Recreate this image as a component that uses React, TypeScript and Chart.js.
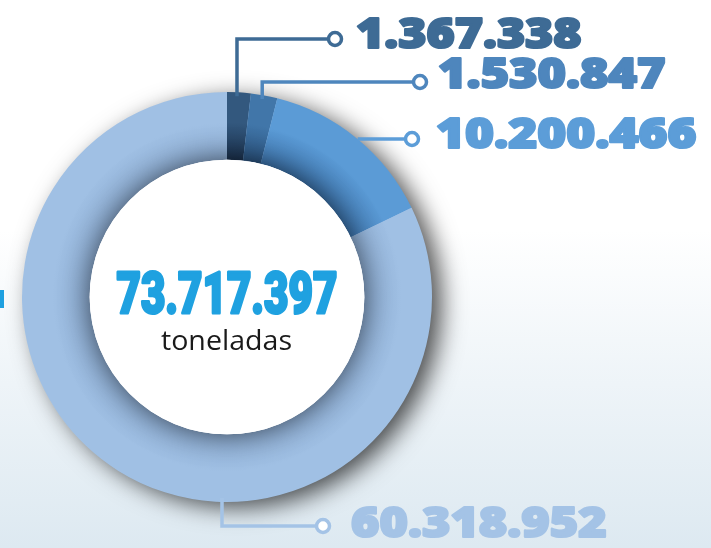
import React, { useEffect, useRef } from "react";
import { Chart, registerables } from "chart.js";

Chart.register(...registerables);

// ---- data ----
const categories = ["Categoría 1", "Categoría 2", "Categoría 3", "Categoría 4"];
const values = [1367338, 1530847, 10200466, 60318952];
const totalTonnes = 73717397;
const unitLabel = "toneladas";
const sliceColors = ["#33587e", "#4176a9", "#5b9bd6", "#a0c0e4"];
const sliceInnerColors = ["#1c3350", "#2b5480", "#3d74ac", "#8eaed4"];
const labelColors = ["#3e6b95", "#4e86bd", "#5c9dd8", "#a4c3e6"];

const fmt = (n: number) => n.toString().replace(/\B(?=(\d{3})+(?!\d))/g, ".");

// label layout: route of leader line, y of horizontal leg, dot x, text x, text width, text baseline
const labelLayout = [
  { route: "up", lineY: 39, dotX: 335, textX: 355, textW: 228, base: 49 },
  { route: "up", lineY: 82, dotX: 420, textX: 437, textW: 230, base: 89 },
  { route: "right", lineY: 139, dotX: 412, textX: 435, textW: 263, base: 149 },
  { route: "down", lineY: 526, dotX: 323, textX: 350, textW: 258, base: 538 },
];

function drawFit(ctx: CanvasRenderingContext2D, text: string, x: number, base: number, w: number, font: string, color: string, stroke = 0) {
  ctx.save();
  ctx.font = font;
  ctx.fillStyle = color;
  ctx.strokeStyle = color;
  ctx.textAlign = "left";
  ctx.textBaseline = "alphabetic";
  const m = (ctx.measureText(text).width || 1) + stroke;
  ctx.translate(x + stroke / 2, base - stroke / 2);
  ctx.scale(w / m, 1);
  ctx.fillText(text, 0, 0);
  if (stroke > 0) {
    ctx.lineWidth = stroke;
    ctx.lineJoin = "round";
    ctx.strokeText(text, 0, 0);
  }
  ctx.restore();
}

export default function App() {
  const ref = useRef<HTMLCanvasElement | null>(null);

  useEffect(() => {
    document.body.style.margin = "0";
    const canvas = ref.current;
    if (!canvas) return;

    const geom = (chart: any) => {
      const a = chart.chartArea;
      const cx = (a.left + a.right) / 2;
      const cy = (a.top + a.bottom) / 2;
      const r = Math.min(a.right - a.left, a.bottom - a.top) / 2;
      return { cx, cy, r, ir: r * 0.67 };
    };

    const decor = {
      id: "decor",
      beforeDatasetsDraw(chart: any) {
        const ctx = chart.ctx as CanvasRenderingContext2D;
        const { cx, cy, r } = geom(chart);
        ctx.save();
        ctx.shadowColor = "rgba(0,0,0,0.7)";
        ctx.shadowBlur = 24;
        ctx.shadowOffsetX = 10;
        ctx.shadowOffsetY = 6;
        ctx.beginPath();
        ctx.arc(cx, cy, r - 1, 0, Math.PI * 2);
        ctx.fillStyle = "#9fbfe3";
        ctx.fill();
        ctx.restore();
        // left fragment of cropped text
        ctx.save();
        ctx.fillStyle = "#1ea0e0";
        ctx.fillRect(0, 290, 4, 18);
        ctx.restore();
      },
      afterDatasetsDraw(chart: any) {
        const ctx = chart.ctx as CanvasRenderingContext2D;
        const { cx, cy, r, ir } = geom(chart);
        // inner white circle with shadow
        ctx.save();
        ctx.shadowColor = "rgba(0,0,0,0.6)";
        ctx.shadowBlur = 28;
        ctx.beginPath();
        ctx.arc(cx, cy, ir, 0, Math.PI * 2);
        ctx.fillStyle = "#ffffff";
        ctx.fill();
        ctx.restore();
        ctx.save();
        ctx.beginPath();
        ctx.arc(cx, cy, ir, 0, Math.PI * 2);
        ctx.fillStyle = "#ffffff";
        ctx.fill();
        ctx.restore();

        // center texts
        drawFit(ctx, fmt(totalTonnes), cx - 112, 314, 223, "900 58px Roboto, 'Open Sans', sans-serif", "#1fa1e0", 3);
        drawFit(ctx, unitLabel, cx - 66, 350, 131, "400 27px 'Open Sans', Lato, sans-serif", "#1a1a1a");

        // leaders + labels
        const meta = chart.getDatasetMeta(0);
        meta.data.forEach((arc: any, i: number) => {
          const L = labelLayout[i];
          const col = labelColors[i];
          ctx.save();
          ctx.strokeStyle = col;
          ctx.lineWidth = 3.5;
          ctx.lineJoin = "miter";
          ctx.beginPath();
          const mid = (arc.startAngle + arc.endAngle) / 2;
          if (L.route === "up") {
            const x = cx + Math.cos(mid) * r - 2;
            const y0 = cy - Math.sqrt(Math.max(0, r * r - (x - cx) * (x - cx)));
            ctx.moveTo(x, y0 + 4);
            ctx.lineTo(x, L.lineY);
            ctx.lineTo(L.dotX - 6, L.lineY);
          } else if (L.route === "right") {
            const x0 = cx + Math.sqrt(Math.max(0, r * r - (L.lineY - cy) * (L.lineY - cy)));
            ctx.moveTo(x0, L.lineY);
            ctx.lineTo(L.dotX - 6, L.lineY);
          } else {
            const x = cx - 5;
            ctx.moveTo(x, cy + r - 4);
            ctx.lineTo(x, L.lineY);
            ctx.lineTo(L.dotX - 6, L.lineY);
          }
          ctx.stroke();
          ctx.beginPath();
          ctx.arc(L.dotX, L.lineY, 6.5, 0, Math.PI * 2);
          ctx.fillStyle = "#ffffff";
          ctx.fill();
          ctx.lineWidth = 3.5;
          ctx.stroke();
          ctx.restore();
          drawFit(ctx, fmt(values[i]), L.textX, L.base, L.textW, "800 42px 'Open Sans', sans-serif", col, 2.2);
        });
      },
    };

    const chart = new Chart(canvas, {
      type: "doughnut",
      data: {
        labels: categories,
        datasets: [
          {
            data: values,
            borderWidth: 0,
            backgroundColor: (c: any) => {
              const i = c.dataIndex ?? 0;
              const chart = c.chart;
              if (!chart.chartArea) return sliceColors[i];
              const { cx, cy, r, ir } = geom(chart);
              const g = chart.ctx.createRadialGradient(cx, cy, ir, cx, cy, r);
              g.addColorStop(0, sliceInnerColors[i]);
              g.addColorStop(0.55, sliceColors[i]);
              g.addColorStop(1, sliceColors[i]);
              return g;
            },
          },
        ],
      },
      options: {
        responsive: false,
        animation: false,
        cutout: "67%",
        rotation: 0,
        layout: { padding: { left: 22, right: 279, top: 92, bottom: 46 } },
        plugins: { legend: { display: false }, tooltip: { enabled: false } },
      },
      plugins: [decor],
    });
    return () => chart.destroy();
  }, []);

  return (
    <div
      style={{
        position: "relative",
        width: 711,
        height: 548,
        background: "linear-gradient(180deg, #ffffff 0%, #ffffff 42%, #eef4f8 70%, #dde9f1 100%)",
      }}
    >
      <canvas ref={ref} width={711} height={548} style={{ display: "block" }} />
    </div>
  );
}
